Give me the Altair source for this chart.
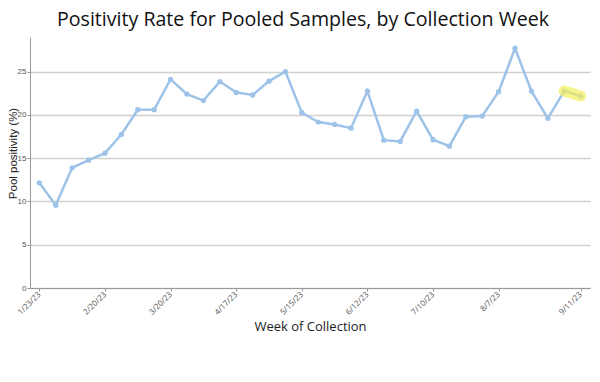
import altair as alt
import pandas as pd

weeks = ["1/23/23", "1/30/23", "2/6/23", "2/13/23", "2/20/23", "2/27/23", "3/6/23",
         "3/13/23", "3/20/23", "3/27/23", "4/3/23", "4/10/23", "4/17/23", "4/24/23",
         "5/1/23", "5/8/23", "5/15/23", "5/22/23", "5/29/23", "6/5/23", "6/12/23",
         "6/19/23", "6/26/23", "7/3/23", "7/10/23", "7/17/23", "7/24/23", "7/31/23",
         "8/7/23", "8/14/23", "8/21/23", "8/28/23", "9/4/23", "9/11/23"]
positivity = [12.15, 9.56, 13.89, 14.77, 15.58, 17.74, 20.6, 20.6, 24.1, 22.4, 21.65,
              23.85, 22.6, 22.3, 23.9, 25.0, 20.25, 19.17, 18.9, 18.47, 22.75, 17.08,
              16.93, 20.44, 17.13, 16.39, 19.79, 19.86, 22.68, 27.7, 22.75, 19.6,
              22.75, 22.18]
tick_labels = ["1/23/23", "2/20/23", "3/20/23", "4/17/23", "5/15/23", "6/12/23",
               "7/10/23", "8/7/23", "9/11/23"]
highlight_weeks = ["9/4/23", "9/11/23"]

df = pd.DataFrame({"week": weeks, "value": positivity})
hl = df[df["week"].isin(highlight_weeks)]

x = alt.X("week:N", sort=weeks,
          scale=alt.Scale(type="point", padding=0.57),
          axis=alt.Axis(values=tick_labels, labelAngle=-45, labelAlign="right",
                        labelBaseline="middle", labelFontSize=8, labelColor="#555",
                        labelFont="Open Sans", tickSize=3, tickColor="#999",
                        domainColor="#999", grid=False, labelPadding=2,
                        title="Week of Collection", titleFont="Open Sans",
                        titleFontSize=13, titleFontWeight="normal", titleColor="#222",
                        titlePadding=4))
y = alt.Y("value:Q",
          scale=alt.Scale(domain=[0, 29], nice=False),
          axis=alt.Axis(values=[0, 5, 10, 15, 20, 25], labelFontSize=8, labelColor="#555",
                        labelFont="Liberation Sans", tickSize=3, tickColor="#999",
                        domainColor="#999", gridColor="#d0d0d0", gridWidth=1.5,
                        labelPadding=1,
                        title="Pool positivity (%)", titleFont="Liberation Sans",
                        titleFontSize=11.5, titleFontWeight="normal", titleColor="#222",
                        titleX=-17, titleY=116, titleAngle=270, titleAlign="center",
                        titleBaseline="middle"))

line = alt.Chart(df).mark_line(color="#9dc3e8", strokeWidth=2.5).encode(x=x, y=y)
pts = alt.Chart(df).mark_point(filled=True, color="#9dc3e8", size=28, opacity=1).encode(x=x, y=y)
high = alt.Chart(hl).mark_line(color="#f4ee5a", strokeWidth=11, opacity=0.7,
                               strokeCap="round").encode(x=x, y=y)

chart = alt.layer(line, pts, high).properties(
    width=560, height=251,
    autosize=alt.AutoSizeParams(type="none"),
    padding={"left": 22, "top": 29, "right": 2, "bottom": 70},
    title=alt.Title("Positivity Rate for Pooled Samples, by Collection Week",
                    font="Open Sans", fontSize=19.6, fontWeight="normal", color="#111",
                    offset=6, dx=-7),
).configure_view(stroke=None)

chart.save("out.html", embed_options={"renderer": "svg", "actions": False})
